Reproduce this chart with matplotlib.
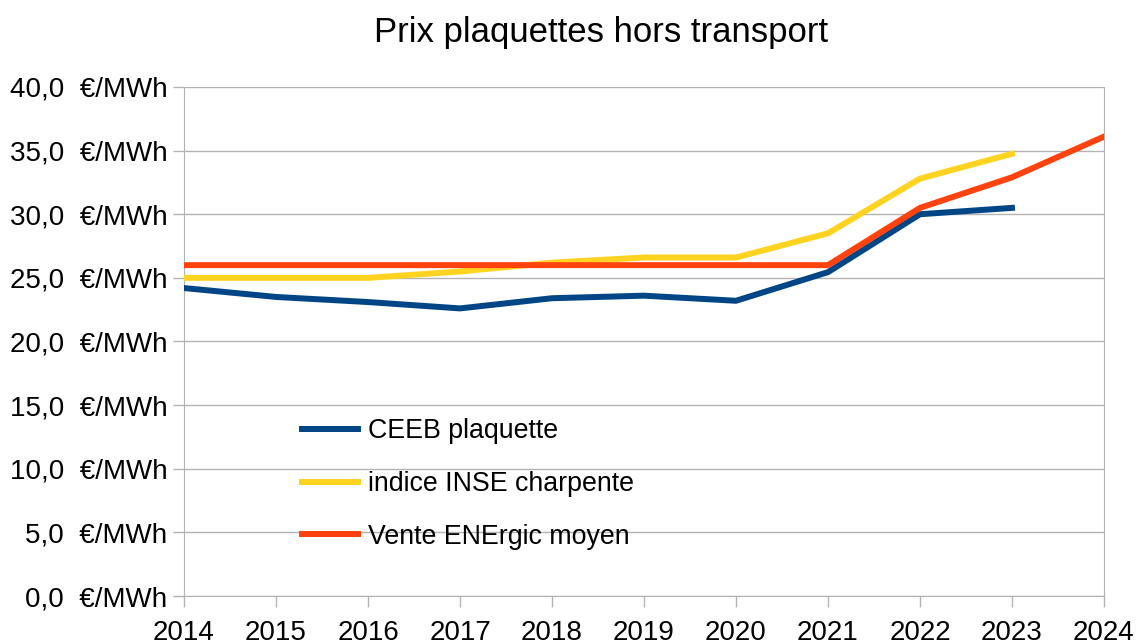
import matplotlib.pyplot as plt
from matplotlib.ticker import FuncFormatter

plt.rcParams['font.family'] = ['Liberation Sans', 'DejaVu Sans']

years = [2014, 2015, 2016, 2017, 2018, 2019, 2020, 2021, 2022, 2023, 2024]
ceeb = [24.2, 23.5, 23.1, 22.6, 23.4, 23.6, 23.2, 25.45, 30.0, 30.5]
inse = [25.0, 25.0, 25.0, 25.5, 26.2, 26.6, 26.6, 28.5, 32.8, 34.75]
energic = [26.0, 26.0, 26.0, 26.0, 26.0, 26.0, 26.0, 26.0, 30.5, 32.9, 36.1]

fig = plt.figure(figsize=(11.36, 6.41), dpi=100)
ax = fig.add_axes([0.162, 0.0702, 0.8098, 0.7941])

ax.plot(years[:len(ceeb)], ceeb, color='#004586', lw=4.3, label='CEEB plaquette', zorder=3)
ax.plot(years[:len(inse)], inse, color='#ffd320', lw=4.3, label='indice INSE charpente', zorder=3)
ax.plot(years, energic, color='#ff420e', lw=4.3, label='Vente ENErgic moyen', zorder=3)

ax.set_xlim(2014, 2024)
ax.set_ylim(0, 40)
ax.set_xticks(years)
ax.set_yticks(range(0, 41, 5))
ax.yaxis.set_major_formatter(FuncFormatter(lambda v, p: f"{v:.1f}".replace('.', ',') + "  €/MWh"))
ax.tick_params(labelsize=20, length=8, color='#b3b3b3', width=1)
ax.tick_params(axis='y', pad=4)
ax.tick_params(axis='x', pad=9)
ax.grid(axis='y', color='#b3b3b3', lw=1)
ax.set_axisbelow(True)
for s in ['left', 'bottom', 'right']:
    ax.spines[s].set_color('#b3b3b3')
ax.spines['top'].set_visible(False)

fig.text(0.529, 0.950, 'Prix plaquettes hors transport', fontsize=25, ha='center', va='center')
ax.legend(loc='center left', bbox_to_anchor=(278 / 1136, 1 - 484 / 641), bbox_transform=fig.transFigure,
          frameon=False, fontsize=19.3, handlelength=2.1, labelspacing=1.0, handletextpad=0.35)

fig.savefig('out.png')
